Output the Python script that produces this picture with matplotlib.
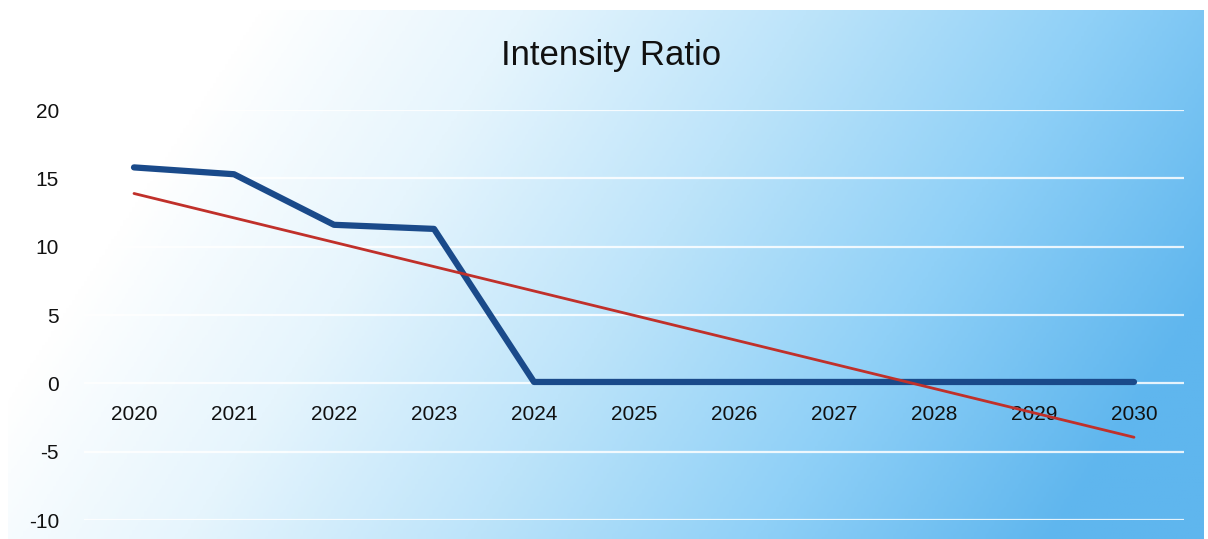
import numpy as np
import matplotlib.pyplot as plt
from matplotlib.colors import LinearSegmentedColormap

years = ['2020', '2021', '2022', '2023', '2024', '2025', '2026', '2027', '2028', '2029', '2030']
intensity = [15.8, 15.3, 11.6, 11.3, 0.1, 0.1, 0.1, 0.1, 0.1, 0.1, 0.1]
y_ticks = [-10, -5, 0, 5, 10, 15, 20]

plt.rcParams['font.family'] = ['Liberation Sans', 'DejaVu Sans']

W, H = 1208, 539
fig = plt.figure(figsize=(W / 100, H / 100), dpi=100)

# gradient background of the chart area
bg = fig.add_axes([8 / W, 0, 1 - 8 / W - 4 / W, 1 - 10 / H])
bg.set_axis_off()
gx, gy = np.meshgrid(np.linspace(0, 1, 400), np.linspace(0, 1, 200))
t = np.clip(1.05 * gx + 0.3 * gy - 0.22, 0, 1) ** 0.95
cmap = LinearSegmentedColormap.from_list(
    'bg', ['#ffffff', '#e6f5fd', '#bde4fa', '#8fd0f7', '#5fb6ee'])
bg.imshow(t, cmap=cmap, aspect='auto', extent=[0, 1, 0, 1], origin='upper',
          vmin=0, vmax=1)

ax = fig.add_axes([84 / W, 1 - 520 / H, 1100 / W, 410 / H])
ax.patch.set_alpha(0)
x = np.arange(len(years))
ax.spines['bottom'].set_position(('data', 0))

ax.plot(x, intensity, color='#1a4a8a', lw=4.5, solid_capstyle='round',
        solid_joinstyle='round', zorder=3)
coef = np.polyfit(x, intensity, 1)
ax.plot(x, np.polyval(coef, x), color='#c0302a', lw=2, solid_capstyle='round',
        zorder=4)

ax.set_xlim(-0.5, len(years) - 0.5)
ax.set_ylim(-10, 20)
ax.set_yticks(y_ticks)
ax.set_yticklabels([str(v) for v in y_ticks])
ax.set_xticks(x)
ax.set_xticklabels(years)
ax.grid(axis='y', color='white', lw=1.6, alpha=0.85)
ax.set_axisbelow(True)
for s in ax.spines.values():
    s.set_visible(False)
ax.tick_params(axis='both', length=0, labelsize=15, labelcolor='#111111')
ax.tick_params(axis='x', pad=15.5)
ax.tick_params(axis='y', pad=18)

fig.text(611 / W, 1 - 55 / H, 'Intensity Ratio', fontsize=25,
         ha='center', va='center', color='#111111')

fig.savefig('out.png', dpi=100)
